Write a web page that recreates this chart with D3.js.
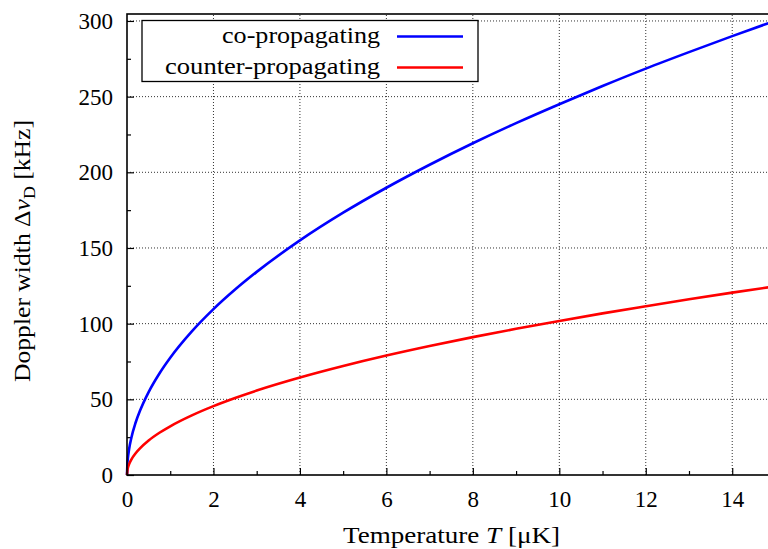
<!DOCTYPE html>
<html><head><meta charset="utf-8">
<script src="https://cdn.jsdelivr.net/npm/d3@7"></script>
<style>
body{margin:0;background:#fff;}
text{font-family:"Liberation Serif","DejaVu Serif",serif;fill:#000;}
</style></head>
<body><svg id="c" width="768" height="549"></svg>
<script>
const temps = [0,0.01,0.02,0.05,0.1,0.2,0.3,0.5,0.75,1,1.5,2,2.5,3,4,5,6,7,8,9,10,11,12,13,14,15];
const coProp = [0,7.75,11,17.3,24.5,34.7,42.4,54.8,67.1,77.5,94.9,109.6,122.5,134.2,155,173.3,189.8,205,219.2,232.5,245,257,268.5,279.4,290,300.2];
const counterProp = [0,3.2,4.6,7.2,10.2,14.4,17.6,22.8,27.9,32.2,39.4,45.5,50.9,55.8,64.4,72,78.9,85.2,91.1,96.6,101.8,106.8,111.5,116.1,120.5,124.7];
const seriesNames = ["co-propagating","counter-propagating"];
const seriesColors = ["#0000ff","#ff0000"];
const xMajor = [0,2,4,6,8,10,12,14];
const xMinor = [1,3,5,7,9,11,13];
const yMajor = [0,50,100,150,200,250,300];
const yMinor = [25,75,125,175,225,275];

const svg = d3.select("#c");
const L=127, B=475, T=14;
const x = d3.scaleLinear().domain([0,15]).range([L, L+15*43.23]);
const y = d3.scaleLinear().domain([0,304.6]).range([B, T]);
const R = x(15);

// grid
const g = svg.append("g");
g.selectAll(".gx").data(xMajor.filter(d=>d>0)).join("line")
 .attr("x1",d=>x(d)).attr("x2",d=>x(d)).attr("y1",B).attr("y2",T)
 .attr("stroke","#000").attr("stroke-width",1).attr("stroke-dasharray","1,2").attr("opacity",0.8);
g.selectAll(".gy").data(yMajor.filter(d=>d>0)).join("line")
 .attr("x1",L).attr("x2",R).attr("y1",d=>y(d)).attr("y2",d=>y(d))
 .attr("stroke","#000").attr("stroke-width",1).attr("stroke-dasharray","1,2").attr("opacity",0.8);

// axes with inward ticks
const xAx = d3.axisBottom(x).tickValues(xMajor).tickSize(-7).tickPadding(16).tickFormat(d3.format("d"));
const gx = svg.append("g").attr("transform",`translate(0,${B})`).call(xAx);
gx.select(".domain").remove();
gx.selectAll("text").attr("font-size",23).attr("font-family","Liberation Serif");
svg.append("g").attr("transform",`translate(0,${B})`)
 .call(d3.axisBottom(x).tickValues(xMinor).tickSize(-4).tickFormat(""))
 .select(".domain").remove();

const yAx = d3.axisLeft(y).tickValues(yMajor).tickSize(-7).tickPadding(14).tickFormat(d3.format("d"));
const gy = svg.append("g").attr("transform",`translate(${L},0)`).call(yAx);
gy.select(".domain").remove();
gy.selectAll("text").attr("font-size",23).attr("font-family","Liberation Serif");
svg.append("g").attr("transform",`translate(${L},0)`)
 .call(d3.axisLeft(y).tickValues(yMinor).tickSize(-4).tickFormat(""))
 .select(".domain").remove();
svg.selectAll(".tick line").attr("stroke-width",1.2);

// curves
const line = d3.line().curve(d3.curveMonotoneX);
[coProp, counterProp].forEach((vals,i)=>{
  svg.append("path").datum(temps.map((t,k)=>[x(t),y(vals[k])]))
   .attr("d",line).attr("fill","none").attr("stroke",seriesColors[i]).attr("stroke-width",2.6);
});

// frame
svg.append("rect").attr("x",L).attr("y",T).attr("width",R-L).attr("height",B-T)
 .attr("fill","none").attr("stroke","#000").attr("stroke-width",1.6);

// legend
const lg = svg.append("g");
lg.append("rect").attr("x",142).attr("y",20.5).attr("width",336).attr("height",61)
 .attr("fill","#fff").attr("stroke","#000").attr("stroke-width",1.3);
const legendWidths = [158, 215];
seriesNames.forEach((n,i)=>{
  const cy = 36.5 + i*31;
  lg.append("text").attr("x",380).attr("y",cy).attr("dy","0.3em").attr("text-anchor","end")
   .attr("font-size",23).attr("textLength",legendWidths[i]).attr("lengthAdjust","spacingAndGlyphs").text(n);
  lg.append("line").attr("x1",397).attr("x2",463).attr("y1",cy).attr("y2",cy)
   .attr("stroke",seriesColors[i]).attr("stroke-width",2.4);
});

// axis titles
const xt = svg.append("text").attr("x",451.5).attr("y",543).attr("text-anchor","middle").attr("font-size",23)
 .attr("textLength",217).attr("lengthAdjust","spacingAndGlyphs");
xt.append("tspan").text("Temperature ");
xt.append("tspan").attr("font-style","italic").text("T");
xt.append("tspan").text(" [μK]");

const yt = svg.append("text").attr("transform","translate(30,251) rotate(-90)").attr("text-anchor","middle").attr("font-size",23)
 .attr("textLength",262).attr("lengthAdjust","spacingAndGlyphs");
yt.append("tspan").text("Doppler width Δ");
yt.append("tspan").attr("font-style","italic").text("ν");
yt.append("tspan").attr("font-size",16).attr("dy",5).text("D");
yt.append("tspan").attr("dy",-5).text(" [kHz]");
</script></body></html>
